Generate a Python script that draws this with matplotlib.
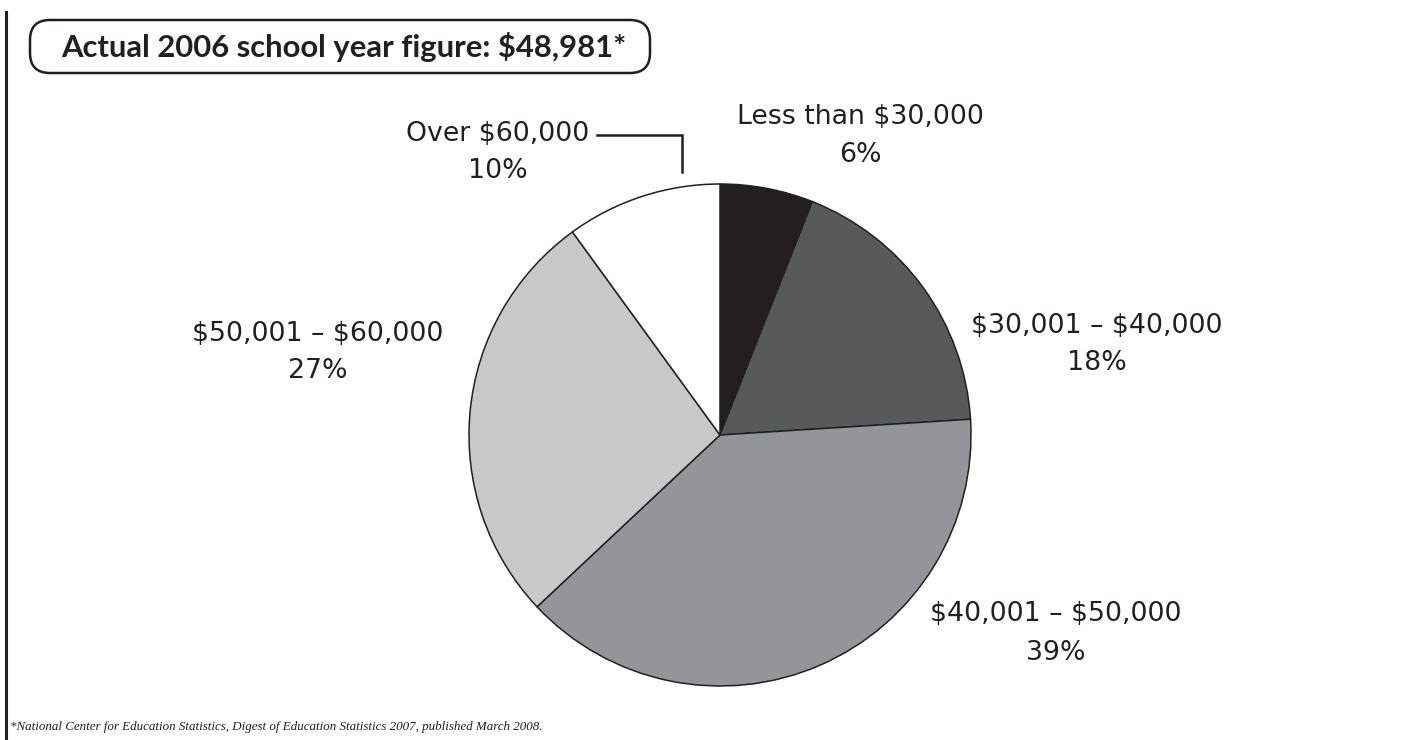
import matplotlib
matplotlib.use("Agg")
import matplotlib.pyplot as plt
from matplotlib.patches import FancyBboxPatch

# ---- data ----
categories = ["Less than $30,000", "$30,001 \u2013 $40,000", "$40,001 \u2013 $50,000",
              "$50,001 \u2013 $60,000", "Over $60,000"]
shares = [6, 18, 39, 27, 10]
colors = ["#231f20", "#58595b", "#939598", "#c7c8ca", "#ffffff"]
title = "Actual 2006 school year figure: $48,981*"
footnote = ("*National Center for Education Statistics, Digest of Education Statistics 2007, "
            "published March 2008.")


def esc(s):
    return s.replace("$", r"\$")


W, H = 1413, 740
fig = plt.figure(figsize=(W / 100, H / 100), dpi=100)
ax = fig.add_axes([0, 0, 1, 1])
ax.set_xlim(0, W)
ax.set_ylim(H, 0)
ax.axis("off")

# pie in its own axes so its geometry is handled by matplotlib
cx, cy, r = 720, 435, 251
pax = fig.add_axes([(cx - r) / W, 1 - (cy + r) / H, 2 * r / W, 2 * r / H])
pax.pie(shares, colors=colors, startangle=90, counterclock=False, radius=1,
        wedgeprops=dict(edgecolor="#231f20", linewidth=1.1))
pax.set_xlim(-1, 1)
pax.set_ylim(-1, 1)
pax.set_aspect("auto")
pax.axis("off")

txt = "#231f20"
font = "DejaVu Sans"
label_pos = [(860, 117, 155), (1097, 326, 363), (1056, 614, 653), (318, 334, 371), (498, 134, 171)]
for cat, val, (x, y1, y2) in zip(categories, shares, label_pos):
    ax.text(x, y1, esc(cat), ha="center", va="center", fontsize=19.3, color=txt, family=font)
    ax.text(x, y2, f"{val}%", ha="center", va="center", fontsize=19.3, color=txt, family=font)

# leader line for "Over $60,000"
ax.plot([597, 682, 682], [135, 135, 172], color=txt, lw=1.8, solid_joinstyle="miter")

# left rule
ax.plot([6, 6], [12, H], color=txt, lw=2.2)

# title box
box = FancyBboxPatch((30, 20), 620, 53, boxstyle="round,pad=0,rounding_size=20",
                     fc="white", ec=txt, lw=1.8)
ax.add_patch(box)
ax.text(344, 47, esc(title), ha="center", va="center", fontsize=22.3, fontweight="bold",
        color=txt, family="Lato")

# footnote
ax.text(10, 727, footnote, ha="left", va="center", fontsize=9.4, style="italic",
        color=txt, family="Liberation Serif")

fig.savefig("out.png", dpi=100)
